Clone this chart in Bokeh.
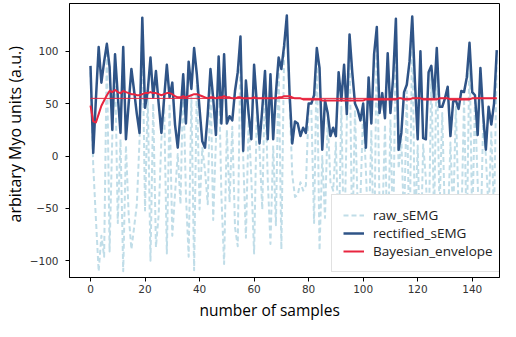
from bokeh.plotting import figure
from bokeh.models import (Range1d, FixedTicker, CustomJSTickFormatter, Title,
                          Legend, LegendItem)
from bokeh.embed import file_html
from bokeh.resources import INLINE

samples = list(range(150))

rectified_semg = [
    86, 3, 55, 104, 70, 90, 107, 85, 25, 97,
    58, 22, 104, 16, 50, 83, 62, 40, 22, 132,
    46, 62, 94, 56, 81, 50, 22, 55, 87, 56,
    70, 30, 8, 40, 78, 31, 90, 64, 103, 78,
    45, 14, 8, 40, 83, 55, 20, 95, 31, 97,
    31, 38, 34, 62, 80, 114, 5, 72, 40, 16,
    87, 50, 12, 45, 81, 16, 78, 16, 60, 94,
    83, 105, 134, 60, 12, 33, 31, 19, 27, 22,
    50, 50, 58, 103, 84, 6, 53, 41, 19, 27,
    19, 80, 53, 87, 40, 116, 80, 50, 44, 34,
    50, 8, 75, 31, 97, 123, 41, 60, 36, 98,
    41, 75, 131, 6, 22, 61, 68, 90, 133, 70,
    16, 100, 17, 16, 80, 86, 56, 103, 47, 47,
    55, 66, 19, 52, 53, 45, 62, 61, 75, 108,
    61, 58, 20, 84, 40, 6, 47, 30, 50, 101,
]

raw_semg = [
    80, -9, -61, -110, -76, -96, 101, -91, 19, 91,
    -64, 16, -110, 10, -56, -89, -68, -46, 16, 126,
    -52, 56, -100, 50, -87, -56, 16, 49, -93, 50,
    -76, -36, 2, -46, 72, -37, -96, 58, -109, 72,
    -51, 8, -14, -46, 77, -61, 14, 89, -37, -103,
    25, -44, 28, -68, -86, 108, -1, -78, 34, -22,
    -93, 44, 6, -51, 75, -22, -84, 10, -66, 88,
    -89, 99, 128, 54, -18, -39, -37, -25, -33, -28,
    44, 44, -64, 97, -90, 0, -59, 35, -25, -33,
    13, -86, 47, -93, 34, 110, -86, 44, -50, -40,
    44, -14, -81, 25, -103, 117, -47, -66, 30, -104,
    35, -81, 125, -12, 16, -67, 62, -96, 127, -76,
    10, -106, 11, -22, -86, 80, -62, 97, -53, 41,
    -61, -72, 13, -58, 47, -51, -68, 55, -81, 102,
    -67, 52, -26, -90, 34, 0, -53, 24, -56, 95,
]

bayesian_envelope = [
    48, 33, 32, 40, 48, 53, 58, 62, 61, 63,
    61, 60, 62, 61, 60, 59, 59, 58, 58, 59,
    60, 60, 61, 60, 60, 59, 58, 59, 60, 60,
    59, 57, 56, 56, 57, 56, 57, 58, 59, 59,
    58, 57, 56, 55, 56, 56, 55, 56, 56, 57,
    56, 56, 55, 55, 56, 56, 55, 55, 55, 55,
    56, 55, 55, 55, 55, 55, 55, 55, 55, 56,
    56, 57, 57, 57, 56, 55, 55, 55, 54, 54,
    54, 54, 54, 54, 54, 53, 53, 53, 53, 53,
    53, 53, 53, 53, 53, 53, 53, 53, 53, 53,
    53, 54, 54, 54, 54, 54, 54, 54, 54, 54,
    54, 54, 54, 55, 55, 54, 54, 54, 55, 55,
    55, 55, 54, 54, 54, 54, 54, 54, 55, 55,
    55, 55, 54, 54, 54, 54, 54, 54, 54, 54,
    55, 55, 55, 55, 55, 55, 55, 55, 55, 55,
]

envelope_level = 55

x_ticks = [0, 20, 40, 60, 80, 100, 120, 140]
y_ticks = [-100, -50, 0, 50, 100]

x_label = "number of samples"
y_label = "arbitary Myo units (a.u.)"
series_labels = ["raw_sEMG", "rectified_sEMG", "Bayesian_envelope"]

RAW_C = "#c0dde8"
RECT_C = "#2f5487"
ENV_C = "#e8253f"
LABEL_FONT = "Open Sans"

p = figure(width=500, height=321, output_backend="svg", toolbar_location=None,
           title=None,
           x_range=Range1d(-7.7, 150.0), y_range=Range1d(-115.9, 145.5),
           min_border_left=69, min_border_right=1, min_border_top=3,
           min_border_bottom=39)

p.background_fill_color = "white"
p.border_fill_color = "white"
p.outline_line_color = "black"
p.outline_line_alpha = 1.0
p.outline_line_width = 1
p.xgrid.visible = False
p.ygrid.visible = False

fmt = CustomJSTickFormatter(code="return tick < 0 ? '\\u2212' + Math.abs(tick) : String(tick);")
for ax, ticks in ((p.xaxis, x_ticks), (p.yaxis, y_ticks)):
    ax.ticker = FixedTicker(ticks=ticks)
    ax.formatter = fmt
    ax.minor_tick_line_color = None
    ax.major_tick_in = 0
    ax.major_tick_out = 4
    ax.major_tick_line_color = "black"
    ax.axis_line_color = "black"
    ax.major_label_text_font = "DejaVu Sans"
    ax.major_label_text_font_size = "10.5px"
    ax.major_label_text_color = "#333333"
p.xaxis.major_label_standoff = 3
p.yaxis.major_label_standoff = 7

r_raw = p.line(samples, raw_semg, line_color=RAW_C, line_width=2,
               line_dash="5 3", line_join="round")
r_rect = p.line(samples, rectified_semg, line_color=RECT_C, line_width=2.5,
                line_join="round")
r_env = p.line(samples, bayesian_envelope, line_color=ENV_C, line_width=2,
               line_join="round")
p.line([samples[0], samples[-1]], [envelope_level, envelope_level],
       line_color=ENV_C, line_width=1)

legend = Legend(items=[
    LegendItem(label=series_labels[0], renderers=[r_raw]),
    LegendItem(label=series_labels[1], renderers=[r_rect]),
    LegendItem(label=series_labels[2], renderers=[r_env]),
], location=(262, 5))
legend.label_text_font = LABEL_FONT
legend.label_text_font_size = "13.5px"
legend.label_text_color = "#222222"
legend.label_height = 14
legend.glyph_height = 14
legend.glyph_width = 21
legend.spacing = 0
legend.padding = 11
legend.label_standoff = 9
legend.margin = 0
legend.border_line_color = "#c4c4c4"
legend.border_line_width = 1
legend.background_fill_color = "white"
legend.background_fill_alpha = 1.0
p.add_layout(legend)

p.add_layout(Title(text=x_label, align="left", offset=130, standoff=2,
                   text_font=LABEL_FONT, text_font_size="15.5px",
                   text_font_style="normal", text_color="black"), "below")
p.add_layout(Title(text=y_label, align="left", offset=55, standoff=1,
                   text_font=LABEL_FONT, text_font_size="16px",
                   text_font_style="normal", text_color="black"), "left")

open("out.html", "w").write(file_html(p, INLINE))
